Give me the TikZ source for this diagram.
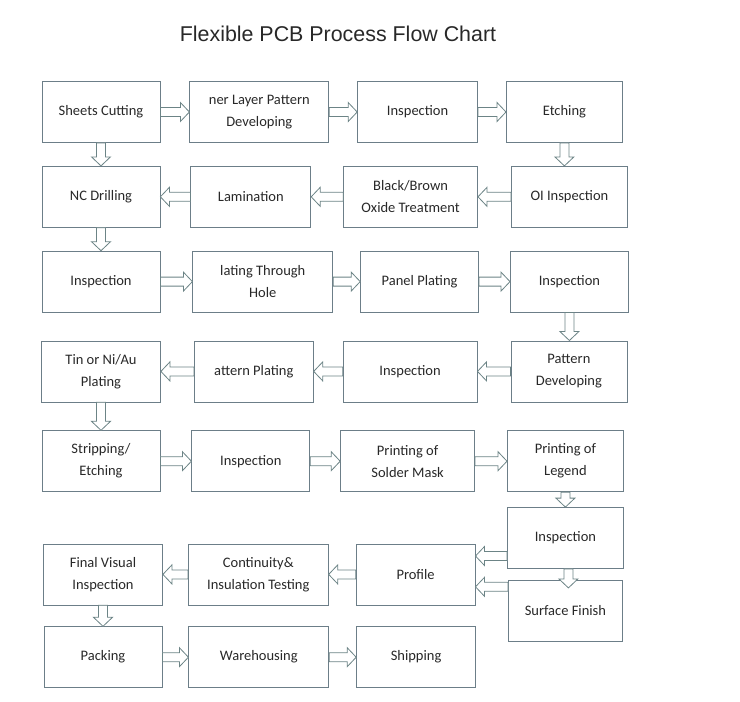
\documentclass[tikz,border=0pt]{standalone}
\usepackage{fontspec}
\setmainfont{Carlito}
\newfontfamily\titlefont{Liberation Sans}
\usetikzlibrary{positioning,calc}

\definecolor{boxline}{RGB}{108,126,136}
\definecolor{arrline}{RGB}{108,132,134}
\definecolor{ink}{RGB}{40,40,40}

\tikzset{
  box/.style={draw=boxline, line width=0.8pt, minimum height=61pt, align=center,
    inner sep=2pt, text=ink, font=\fontsize{14.5}{22}\selectfont},
  blockarrow/.style={draw=arrline, line width=0.8pt, fill=white, line join=miter}
}

% hollow block arrow from #1 to #2
\newcommand\flow[2]{%
  \path (#1) coordinate (fa) (#2) coordinate (fb);
  \path ($(fb)!9pt!(fa)$) coordinate (fh);
  \draw[blockarrow] ($(fa)!4.5pt!90:(fb)$) -- ($(fh)!4.5pt!90:(fb)$)
    -- ($(fh)!9.5pt!90:(fb)$) -- (fb) -- ($(fh)!9.5pt!-90:(fb)$)
    -- ($(fh)!4.5pt!-90:(fb)$) -- ($(fa)!4.5pt!-90:(fb)$) -- cycle;
}

\begin{document}
\begin{tikzpicture}[x=1pt, y=1pt]
    \useasboundingbox (0,0) rectangle (740,-702);

    \node[font=\titlefont\fontsize{21.4}{21.4}\selectfont, text=ink] (title) at (338,-34) {Flexible PCB Process Flow Chart};

    % row 1
    \node[box, minimum width=118pt] (cut) at (101,-112) {Sheets Cutting};
    \node[box, minimum width=139pt] (inner) [right=29pt of cut] {ner Layer Pattern\\Developing};
    \node[box, minimum width=120pt] (insp1) [right=28pt of inner] {Inspection};
    \node[box, minimum width=116pt] (etch) [right=28pt of insp1] {Etching};

    % row 2
    \node[box, minimum width=118pt] (nc) [below=23pt of cut] {NC Drilling};
    \node[box, minimum width=120pt] (lam) [right=30pt of nc] {Lamination};
    \node[box, minimum width=134pt] (oxide) [right=32pt of lam] {Black/Brown\\Oxide Treatment};
    \node[box, minimum width=116pt] (oi) [right=33pt of oxide] {OI Inspection};

    % row 3
    \node[box, minimum width=118pt] (insp2) [below=23pt of nc] {Inspection};
    \node[box, minimum width=140pt] (pth) [right=32pt of insp2] {lating Through\\Hole};
    \node[box, minimum width=118pt] (panel) [right=27pt of pth] {Panel Plating};
    \node[box, minimum width=118pt] (insp3) [right=31pt of panel] {Inspection};

    % row 4
    \node[box, minimum width=119pt] (tin) [below=28pt of insp2] {Tin or Ni/Au\\Plating};
    \node[box, minimum width=119pt] (patplt) [right=33pt of tin] {attern Plating};
    \node[box, minimum width=134pt] (insp4) [right=29pt of patplt] {Inspection};
    \node[box, minimum width=116pt] (patdev) [right=33pt of insp4] {Pattern\\Developing};

    % row 5
    \node[box, minimum width=118pt] (strip) [below=28pt of tin] {Stripping/\\Etching};
    \node[box, minimum width=118pt] (insp5) [right=31pt of strip] {Inspection};
    \node[box, minimum width=134pt] (mask) [right=30pt of insp5] {Printing of\\Solder Mask};
    \node[box, minimum width=116pt] (legend) [right=32pt of mask] {Printing of\\Legend};

    % right column, then back to the left
    \node[box, minimum width=116pt] (insp6) [below=15pt of legend] {Inspection};
    \node[box, minimum width=114pt] (surf) [below=11pt of insp6] {Surface Finish};
    \coordinate (mid) at ($(insp6.west)!0.5!(surf.west)$);
    \node[box, minimum width=119pt] (prof) [left=32pt of mid] {Profile};
    \node[box, minimum width=140pt] (cont) [left=27pt of prof] {Continuity\&\\Insulation Testing};
    \node[box, minimum width=119pt] (final) [left=25pt of cont] {Final Visual\\Inspection};

    % last row
    \node[box, minimum width=118pt] (pack) [below=21pt of final] {Packing};
    \node[box, minimum width=140pt] (ware) [right=26pt of pack] {Warehousing};
    \node[box, minimum width=119pt] (ship) [right=27pt of ware] {Shipping};

    % arrows
    \flow{cut.east}{cut.east -| inner.west}
    \flow{inner.east}{inner.east -| insp1.west}
    \flow{insp1.east}{insp1.east -| etch.west}
    \flow{cut.south}{cut.south |- nc.north}
    \flow{etch.south}{etch.south |- oi.north}

    \flow{oi.west}{oi.west -| oxide.east}
    \flow{oxide.west}{oxide.west -| lam.east}
    \flow{lam.west}{lam.west -| nc.east}
    \flow{nc.south}{nc.south |- insp2.north}

    \flow{insp2.east}{insp2.east -| pth.west}
    \flow{pth.east}{pth.east -| panel.west}
    \flow{panel.east}{panel.east -| insp3.west}
    \flow{insp3.south}{insp3.south |- patdev.north}

    \flow{patdev.west}{patdev.west -| insp4.east}
    \flow{insp4.west}{insp4.west -| patplt.east}
    \flow{patplt.west}{patplt.west -| tin.east}
    \flow{tin.south}{tin.south |- strip.north}

    \flow{strip.east}{strip.east -| insp5.west}
    \flow{insp5.east}{insp5.east -| mask.west}
    \flow{mask.east}{mask.east -| legend.west}
    \flow{legend.south}{legend.south |- insp6.north}

    \coordinate (s1) at ([yshift=-18pt]insp6.west);
    \coordinate (s2) at ([yshift=24pt]surf.west);
    \coordinate (s3) at ([xshift=3pt]insp6.south);
    \coordinate (e3) at ([yshift=-8pt]s3 |- surf.north);
    \flow{s3}{e3}
    \flow{s1}{s1 -| prof.east}
    \flow{s2}{s2 -| prof.east}
    \flow{prof.west}{prof.west -| cont.east}
    \flow{cont.west}{cont.west -| final.east}
    \flow{final.south}{final.south |- pack.north}

    \flow{pack.east}{pack.east -| ware.west}
    \flow{ware.east}{ware.east -| ship.west}
\end{tikzpicture}
\end{document}
